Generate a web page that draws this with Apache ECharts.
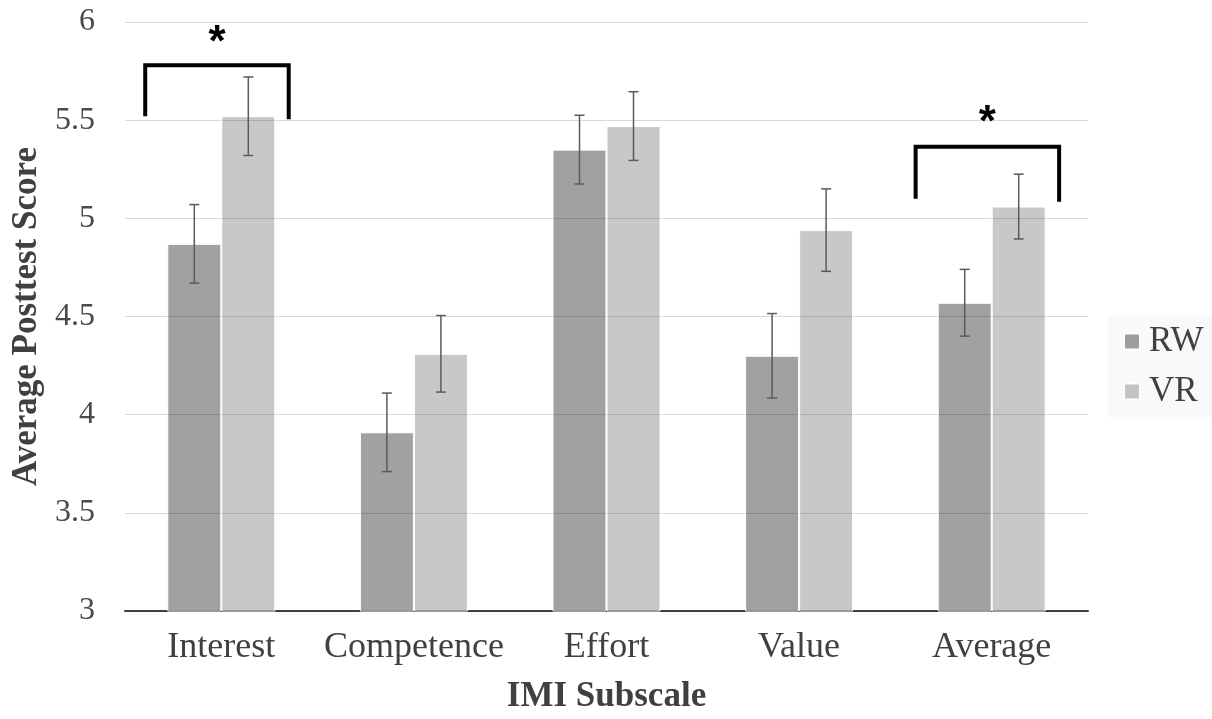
<!DOCTYPE html>
<html>
<head>
<meta charset="utf-8">
<script src="https://cdn.jsdelivr.net/npm/echarts@6/dist/echarts.min.js"></script>
<style>
  html, body { margin: 0; padding: 0; background: #fff; }
  #chart { width: 1212px; height: 719px; }
</style>
</head>
<body>
<div id="chart"></div>
<script>
// IMI subscale means (posttest) with standard errors, per condition
const categories = ['Interest', 'Competence', 'Effort', 'Value', 'Average'];
const seriesNames = ['RW', 'VR'];
const rwMeans = [4.87, 3.91, 5.35, 4.30, 4.57];
const vrMeans = [5.52, 4.31, 5.47, 4.94, 5.06];
const rwErrors = [0.20, 0.20, 0.175, 0.215, 0.17];
const vrErrors = [0.20, 0.195, 0.175, 0.21, 0.165];
const yTicks = [3, 3.5, 4, 4.5, 5, 5.5, 6];

// Significance brackets: category, bracket top, left/right leg ends, star height
const bracketCats = ['Interest', 'Average'];
const bracketTops = [5.78, 5.365];
const bracketLeftEnds = [5.52, 5.10];
const bracketRightEnds = [5.505, 5.085];
const starLevels = [5.89, 5.48];

const SERIF = '"Liberation Serif", "Times New Roman", serif';
const BAR_W = 54;

const chart = echarts.init(document.getElementById('chart'), null, { renderer: 'canvas' });

function errorData(means, errs) {
  return means.map((m, i) => [i, m - errs[i], m + errs[i]]);
}

function errorBarSeries(name, means, errs, side) {
  return {
    type: 'custom',
    name: name + ' SE',
    z: 5,
    silent: true,
    data: errorData(means, errs),
    renderItem: function (params, api) {
      const lo = api.coord([api.value(0), api.value(1)]);
      const hi = api.coord([api.value(0), api.value(2)]);
      const x = lo[0] + side * BAR_W / 2;
      const cap = 5;
      const style = { stroke: '#5a5a5a', lineWidth: 1.5 };
      return {
        type: 'group',
        children: [
          { type: 'line', shape: { x1: x, y1: lo[1], x2: x, y2: hi[1] }, style: style },
          { type: 'line', shape: { x1: x - cap, y1: lo[1], x2: x + cap, y2: lo[1] }, style: style },
          { type: 'line', shape: { x1: x - cap, y1: hi[1], x2: x + cap, y2: hi[1] }, style: style }
        ]
      };
    }
  };
}

const bracketData = bracketCats.map((c, i) => [
  categories.indexOf(c), bracketTops[i], bracketLeftEnds[i], bracketRightEnds[i], starLevels[i]
]);

const option = {
  backgroundColor: '#ffffff',
  animation: false,
  grid: { left: 125, right: 124, top: 22, bottom: 108, containLabel: false },
  legend: {
    orient: 'vertical',
    left: 1108,
    top: 316,
    width: 104,
    padding: [8, 10, 8, 15],
    backgroundColor: '#f9f9f9',
    itemWidth: 16,
    itemHeight: 16,
    itemGap: 15,
    icon: 'rect',
    data: seriesNames,
    textStyle: { fontFamily: SERIF, fontSize: 35, color: '#404040', padding: [0, 0, 0, 4] }
  },
  xAxis: {
    type: 'category',
    data: categories,
    axisTick: { show: false },
    axisLine: { lineStyle: { color: '#404040', width: 2 } },
    axisLabel: {
      fontFamily: SERIF, fontSize: 36, color: '#404040', margin: 19,
      interval: 0, hideOverlap: false
    },
    name: 'IMI Subscale',
    nameLocation: 'middle',
    nameGap: 68,
    nameTextStyle: { fontFamily: SERIF, fontSize: 35, fontWeight: 'bold', color: '#404040' }
  },
  yAxis: {
    type: 'value',
    min: yTicks[0],
    max: yTicks[yTicks.length - 1],
    interval: yTicks[1] - yTicks[0],
    axisLine: { show: false },
    axisTick: { show: false },
    splitLine: { lineStyle: { color: '#d9d9d9', width: 1 } },
    axisLabel: { fontFamily: SERIF, fontSize: 32, color: '#4a4a4a', margin: 30 },
    name: 'Average Posttest Score',
    nameLocation: 'middle',
    nameRotate: 90,
    nameGap: 79,
    nameTextStyle: { fontFamily: SERIF, fontSize: 35, fontWeight: 'bold', color: '#404040' }
  },
  series: [
    {
      name: seriesNames[0],
      type: 'bar',
      data: rwMeans,
      barWidth: BAR_W,
      barGap: '0%',
      itemStyle: { color: 'rgba(0,0,0,0.37)', borderColor: '#ffffff', borderWidth: 1 }
    },
    {
      name: seriesNames[1],
      type: 'bar',
      data: vrMeans,
      barWidth: BAR_W,
      barGap: '0%',
      itemStyle: { color: 'rgba(0,0,0,0.215)', borderColor: '#ffffff', borderWidth: 1 }
    },
    errorBarSeries(seriesNames[0], rwMeans, rwErrors, -1),
    errorBarSeries(seriesNames[1], vrMeans, vrErrors, 1),
    {
      type: 'custom',
      name: 'significance',
      z: 6,
      silent: true,
      data: bracketData,
      renderItem: function (params, api) {
        const band = api.size([1, 0])[0];
        const c = api.coord([api.value(0), api.value(1)]);
        const xl = c[0] - 0.395 * band;
        const xr = c[0] + 0.35 * band;
        const yTop = c[1];
        const yl = api.coord([api.value(0), api.value(2)])[1];
        const yr = api.coord([api.value(0), api.value(3)])[1];
        const ys = api.coord([api.value(0), api.value(4)])[1];
        return {
          type: 'group',
          children: [
            {
              type: 'polyline',
              shape: { points: [[xl, yl], [xl, yTop], [xr, yTop], [xr, yr]] },
              style: { stroke: '#000000', lineWidth: 4, fill: null, lineJoin: 'miter' }
            },
            {
              type: 'text',
              x: (xl + xr) / 2,
              y: ys,
              style: {
                text: '*',
                fontFamily: '"Liberation Sans", Arial, sans-serif',
                fontWeight: 'bold',
                fontSize: 44,
                fill: '#000000',
                align: 'center',
                verticalAlign: 'middle'
              }
            }
          ]
        };
      }
    }
  ]
};

chart.setOption(option);
</script>
</body>
</html>
